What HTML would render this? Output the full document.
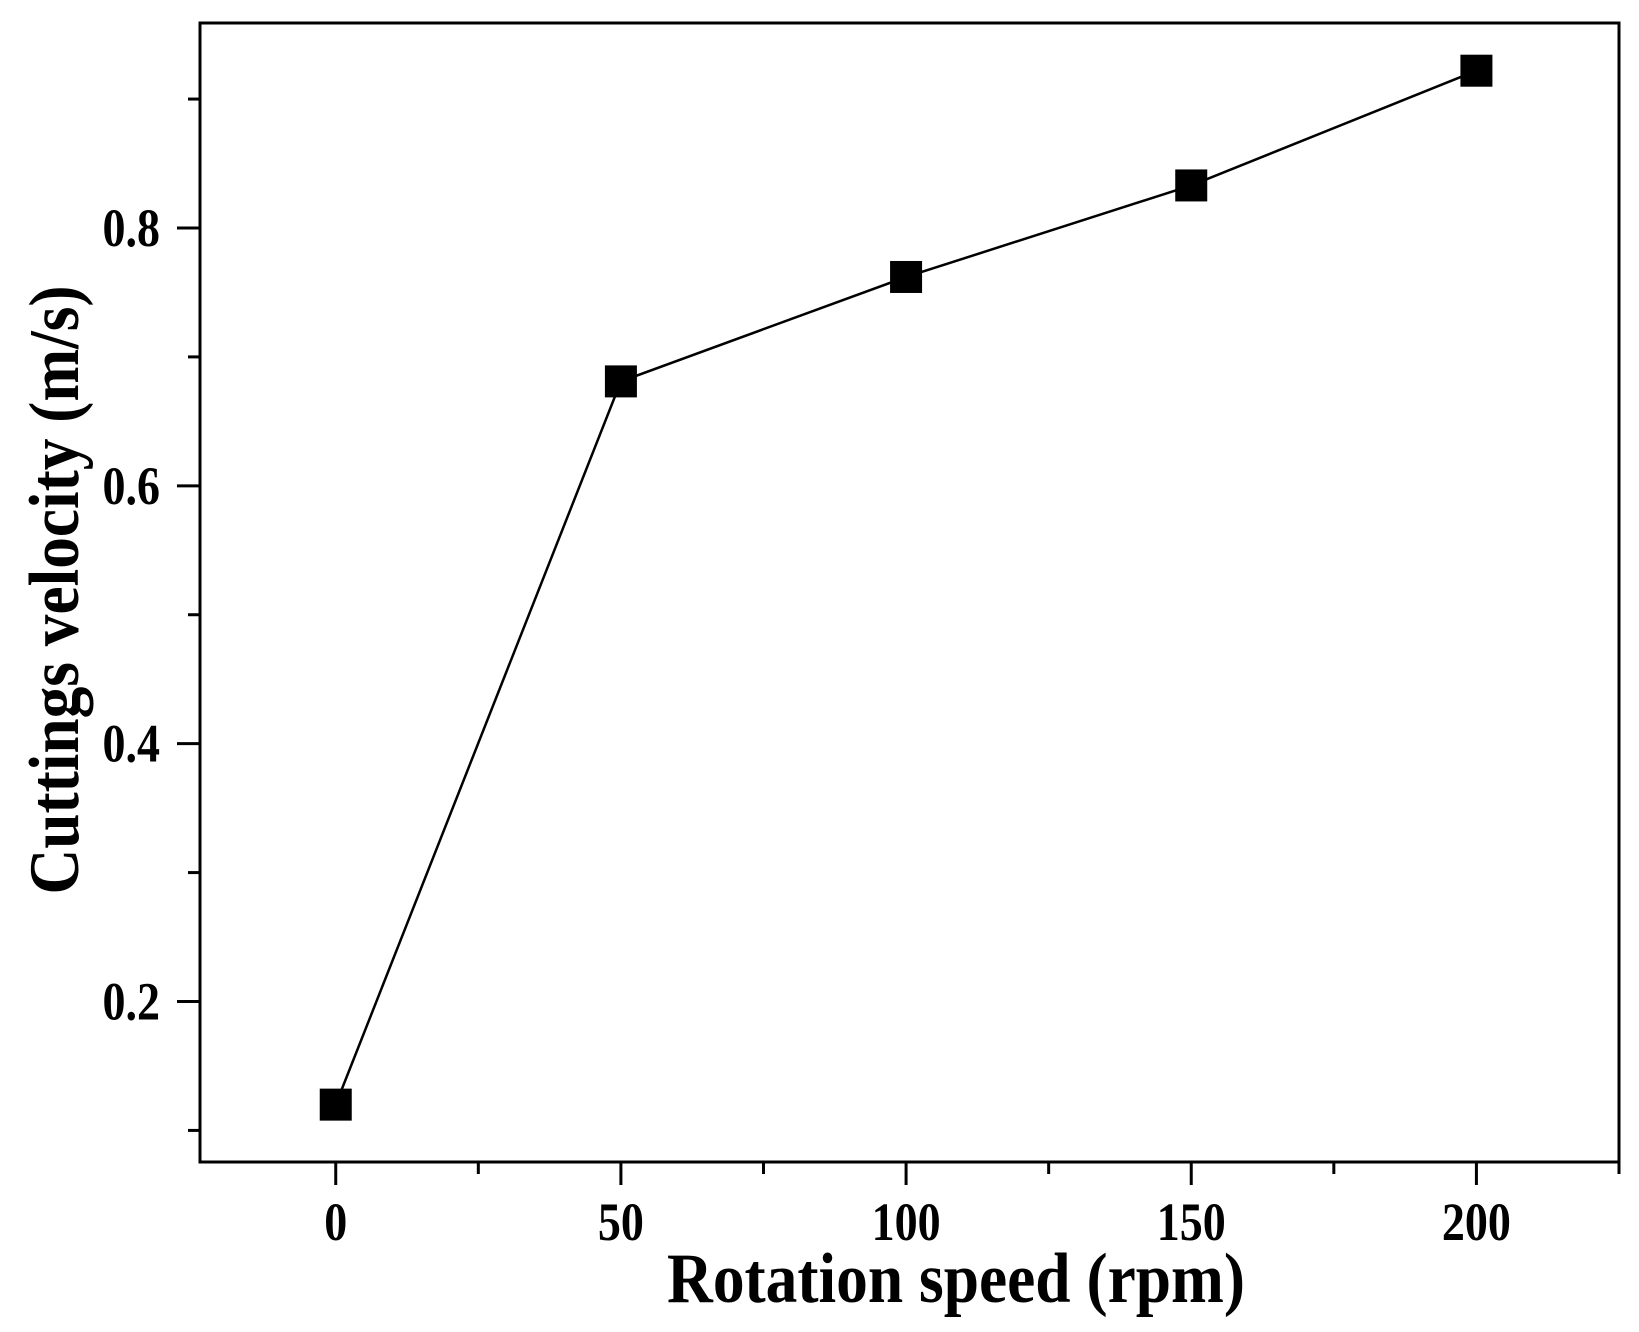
<!DOCTYPE html>
<html><head><meta charset="utf-8"><style>
html,body{margin:0;padding:0;background:#fff;}
svg{display:block;}
text{font-family:"Liberation Serif",serif;font-weight:bold;fill:#000;}
</style></head><body>
<svg id="chart" width="1639" height="1332" viewBox="0 0 1639 1332" xmlns="http://www.w3.org/2000/svg">
<g id="axes"></g>
<g id="series"></g>
<g transform="translate(956,1302) scale(1,1.22)">
<text x="0" y="0" font-size="58" text-anchor="middle" textLength="578" lengthAdjust="spacingAndGlyphs">Rotation speed (rpm)</text>
</g>
<g transform="translate(78,590) rotate(-90) scale(1,1.22)">
<text x="0" y="0" font-size="58" text-anchor="middle" textLength="609" lengthAdjust="spacingAndGlyphs">Cuttings velocity (m/s)</text>
</g>
</svg>
<script>
const categories = [0, 50, 100, 150, 200];
const velocity = [0.12, 0.681, 0.762, 0.833, 0.922];
const xTickLabels = ["0", "50", "100", "150", "200"];
const yTickValues = [0.2, 0.4, 0.6, 0.8];
const yTickLabels = ["0.2", "0.4", "0.6", "0.8"];
const xMinorValues = [25, 75, 125, 175, 225, -25];
const yMinorValues = [0.1, 0.3, 0.5, 0.7, 0.9];

const L = 200, R = 1619, T = 23, B = 1162;
const xMin = -23.8, xMax = 225, yMin = 0.0755, yMax = 0.959;
const xs = v => L + (v - xMin) / (xMax - xMin) * (R - L);
const ys = v => B - (v - yMin) / (yMax - yMin) * (B - T);
const NS = "http://www.w3.org/2000/svg";
const axes = document.getElementById('axes');
const series = document.getElementById('series');
function mk(tag, attrs, parent) {
  const e = document.createElementNS(NS, tag);
  for (const k in attrs) e.setAttribute(k, attrs[k]);
  parent.appendChild(e);
  return e;
}
const frame = mk('rect', {x: L, y: T, width: R - L, height: B - T, fill: 'none', stroke: '#000', 'stroke-width': 3}, axes);



categories.forEach((c, i) => {
  const x = xs(c);
  const t = mk('line', {x1: x, x2: x, y1: B, y2: B + 23, stroke: '#000', 'stroke-width': 3}, axes);
  
  
  const lb = mk('text', {x: 0, y: 0, 'font-size': 46, 'text-anchor': 'middle', transform: 'translate(' + x + ',' + (B + 78) + ') scale(1,1.18)'}, axes);
  lb.textContent = xTickLabels[i];
  
  
});
xMinorValues.forEach(v => {
  if (v < xMin || v > xMax + 0.5) return;
  const x = Math.min(xs(v), R);
  const t = mk('line', {x1: x, x2: x, y1: B, y2: B + 12, stroke: '#000', 'stroke-width': 3}, axes);
  
  
});
yTickValues.forEach((v, i) => {
  const y = ys(v);
  const t = mk('line', {x1: L - 23, x2: L, y1: y, y2: y, stroke: '#000', 'stroke-width': 3}, axes);
  
  
  const lb = mk('text', {x: 0, y: 0, 'font-size': 46, 'text-anchor': 'end', transform: 'translate(160,' + (y + 18) + ') scale(1,1.18)'}, axes);
  lb.textContent = yTickLabels[i];
  
  
});
yMinorValues.forEach(v => {
  const y = ys(v);
  const t = mk('line', {x1: L - 12, x2: L, y1: y, y2: y, stroke: '#000', 'stroke-width': 3}, axes);
  
  
});

const pts = categories.map((c, i) => xs(c) + ',' + ys(velocity[i])).join(' ');
const line = mk('polyline', {points: pts, fill: 'none', stroke: '#000', 'stroke-width': 2.5}, series);


categories.forEach((c, i) => {
  const s = 32;
  const m = mk('rect', {x: xs(c) - s / 2, y: ys(velocity[i]) - s / 2, width: s, height: s, fill: '#000'}, series);
  
  
});
</script>
</body></html>
